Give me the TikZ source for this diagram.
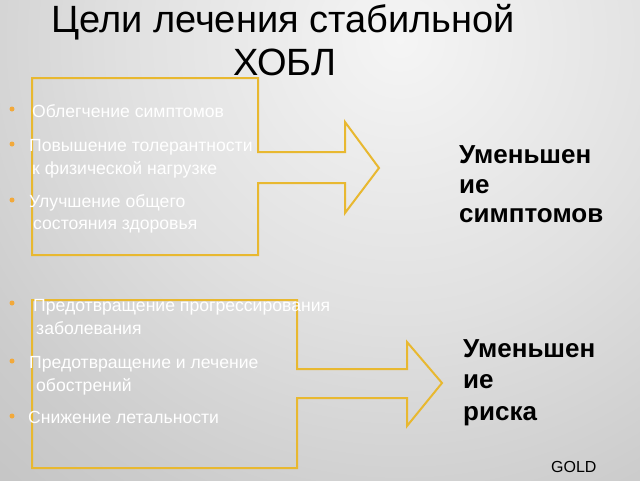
\documentclass[tikz,border=0pt]{standalone}
\usepackage{fontspec}
\setmainfont{Liberation Sans}
\definecolor{arrowgold}{HTML}{E8B830}
\definecolor{bulletor}{HTML}{F2A93B}
\pgfdeclareradialshading{slidebg}{\pgfpoint{0bp}{0bp}}{color(0bp)=(gray!8); color(10bp)=(gray!24); color(18bp)=(gray!40); color(25bp)=(gray!50); color(50bp)=(gray!50)}
\begin{document}
\begin{tikzpicture}[x=1pt,y=-1pt,
  bigarrow/.style={draw=arrowgold,line width=2pt,line join=miter},
  item/.style={anchor=base west,inner sep=0pt,text=white,font=\fontsize{17.6}{20}\selectfont},
  dot/.style={circle,fill=bulletor,inner sep=0pt,minimum size=5pt},
  result/.style={anchor=base west,inner sep=0pt,font=\bfseries\fontsize{26}{30}\selectfont},
  titletext/.style={anchor=base,inner sep=0pt,font=\fontsize{38}{44}\selectfont}]
\useasboundingbox (0,0) rectangle (640,480);
\begin{scope}
\clip (0,0) rectangle (640,480);
\shade[shading=slidebg] (400,40) circle (690pt);
\end{scope}
% title
\node[titletext] (t1) at (283,32) {Цели лечения стабильной};
\node[titletext] (t2) at (285,75) {ХОБЛ};
% arrows
\draw[bigarrow] (32,78) -- (258,78) -- (258,152) -- (345,152) -- (345,122) -- (379,168)
  -- (345,213) -- (345,183) -- (258,183) -- (258,255) -- (32,255) -- cycle;
\draw[bigarrow] (32,300) -- (297,300) -- (297,369) -- (407,369) -- (407,342) -- (442,383)
  -- (407,426) -- (407,398) -- (297,398) -- (297,468) -- (32,468) -- cycle;
% upper list
\node[dot] (b1) at (12,109) {};
\node[item] (u1) at (32,117) {Облегчение симптомов};
\node[dot] (b2) at (12,144) {};
\node[item] (u2) at (29,151) {Повышение толерантности};
\node[item] (u3) at (32,174) {к физической нагрузке};
\node[dot] (b3) at (12,200) {};
\node[item] (u4) at (29,207) {Улучшение общего};
\node[item] (u5) at (33,229) {состояния здоровья};
% lower list
\node[dot] (c1) at (12,303) {};
\node[item] (l1) at (33,311) {Предотвращение прогрессирования};
\node[item] (l2) at (36,334) {заболевания};
\node[dot] (c2) at (12,361) {};
\node[item] (l3) at (29,368) {Предотвращение и лечение};
\node[item] (l4) at (36,391) {обострений};
\node[dot] (c3) at (12,416) {};
\node[item] (l5) at (28,423) {Снижение летальности};
% results
\node[result] (r1) at (459,163) {Уменьшен};
\node[result] (r2) at (459,193) {ие};
\node[result] (r3) at (459,222) {симптомов};
\node[result] (s1) at (463,357) {Уменьшен};
\node[result] (s2) at (463,388) {ие};
\node[result] (s3) at (463,420) {риска};
\node[anchor=base west,inner sep=0pt,font=\fontsize{16}{19}\selectfont] (g) at (551,472) {GOLD};
\end{tikzpicture}
\end{document}
